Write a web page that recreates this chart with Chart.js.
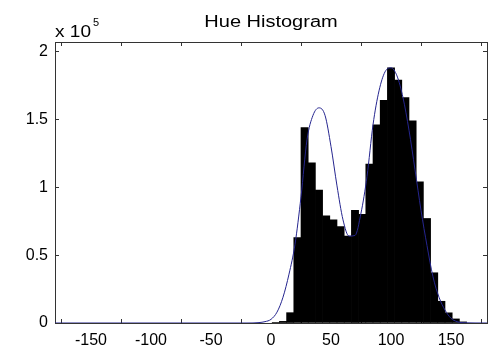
<!DOCTYPE html>
<html>
<head>
<meta charset="utf-8">
<script src="https://cdn.jsdelivr.net/npm/chart.js@4"></script>
<style>
  body { margin: 0; background: #fff; }
</style>
</head>
<body>
<canvas id="grafico" width="495" height="349"></canvas>
<script>
// histogram bins (hue, centre of each 6-degree bin) and pixel counts
let binCenters = [4, 10, 16, 22, 28, 34, 40, 46, 52, 58, 64, 70, 76, 82, 88, 94, 100, 106, 112, 118, 124, 130, 136, 142, 148, 154, 160];
let binCounts = [300, 1200, 7600, 63000, 144000, 118000, 98000, 79000, 76000, 71000, 64000, 83000, 80000, 117000, 146000, 164000, 188000, 179000, 166000, 149000, 104000, 77000, 37000, 16000, 7500, 3000, 800];

// fitted curve
let curveX = [-180, -20, -10, -5, 0, 5, 10, 15, 20, 25, 30, 35, 40, 45, 50, 55, 60, 65, 70, 75, 80, 85, 90, 95, 100, 105, 110, 115, 120, 125, 130, 135, 140, 145, 150, 155, 160, 180];
let curveY = [0, 0, 300, 1000, 2700, 8000, 19000, 36000, 58000, 93000, 135000, 153000, 158500, 153000, 130000, 101000, 76000, 64000, 64500, 81000, 108000, 146000, 171000, 185000, 188000, 182000, 166000, 142000, 113000, 83000, 57000, 34000, 19000, 9500, 3500, 1000, 200, 0];

let xTicks = [-150, -100, -50, 0, 50, 100, 150];
let yTicks = [0, 50000, 100000, 150000, 200000];

var fonte = { family: 'Liberation Sans, Arial, sans-serif', size: 16 };
var corEixo = '#333';

// ticks pointing inwards (negative tickLength), no grid lines
var gradeEixo = { display: true, drawOnChartArea: false, drawTicks: true, tickLength: -4, color: corEixo, lineWidth: 1 };
var bordaEixo = { display: true, color: corEixo, width: 1 };

// title and the x 10^5 exponent
var textoMatlab = {
  id: 'textoMatlab',
  afterDraw(chart) {
    var c = chart.ctx, a = chart.chartArea;
    c.save();
    c.fillStyle = '#000';
    c.textBaseline = 'alphabetic';
    c.font = '16px Liberation Sans, Arial, sans-serif';
    c.textAlign = 'center';
    c.save();
    c.translate((a.left + a.right) / 2, 27);
    c.scale(1.25, 1);
    c.fillText('Hue Histogram', 0, 0);
    c.restore();
    c.textAlign = 'left';
    c.save();
    c.translate(55, 37);
    c.scale(1.12, 1);
    c.font = '17px Liberation Sans, Arial, sans-serif';
    c.fillText('x 10', 0, 0);
    c.restore();
    c.font = '11px Liberation Sans, Arial, sans-serif';
    c.fillText('5', 93, 26);
    c.restore();
  }
};

var ctx = document.getElementById('grafico').getContext('2d');
var grafico = new Chart(ctx, {
  type: 'bar',
  data: {
    datasets: [{
      type: 'line',
      data: curveX.map((x, i) => ({ x: x, y: curveY[i] })),
      borderColor: '#25258f',
      borderWidth: 1,
      pointRadius: 0,
      cubicInterpolationMode: 'monotone',
      order: 0
    }, {
      type: 'bar',
      data: binCenters.map((x, i) => ({ x: x, y: binCounts[i] })),
      backgroundColor: '#000',
      borderWidth: 0,
      barPercentage: 1,
      categoryPercentage: 1,
      order: 1
    }]
  },
  options: {
    responsive: false,
    animation: false,
    layout: { padding: { top: 42, right: 8, left: 0, bottom: 0 } },
    plugins: { legend: { display: false }, tooltip: { enabled: false } },
    scales: {
      x: {
        type: 'linear',
        offset: false,
        min: -180,
        max: 180,
        grid: gradeEixo,
        border: bordaEixo,
        afterBuildTicks: s => { s.ticks = xTicks.map(v => ({ value: v })); },
        afterFit: s => { s.height = 26; },
        ticks: { color: '#000', font: fonte, padding: 12, maxRotation: 0, autoSkip: false }
      },
      x2: {
        type: 'linear',
        position: 'top',
        offset: false,
        min: -180,
        max: 180,
        grid: gradeEixo,
        border: bordaEixo,
        afterBuildTicks: s => { s.ticks = xTicks.map(v => ({ value: v })); },
        afterFit: s => { s.height = 0; },
        ticks: { display: false }
      },
      y: {
        min: 0,
        max: 207000,
        grid: gradeEixo,
        border: bordaEixo,
        afterBuildTicks: s => { s.ticks = yTicks.map(v => ({ value: v })); },
        afterFit: s => { s.width = 55; },
        ticks: { color: '#000', font: fonte, padding: 11, callback: v => String(v / 100000) }
      },
      y2: {
        position: 'right',
        min: 0,
        max: 207000,
        grid: gradeEixo,
        border: bordaEixo,
        afterBuildTicks: s => { s.ticks = yTicks.map(v => ({ value: v })); },
        afterFit: s => { s.width = 0; },
        ticks: { display: false }
      }
    }
  },
  plugins: [textoMatlab]
});
</script>
</body>
</html>
